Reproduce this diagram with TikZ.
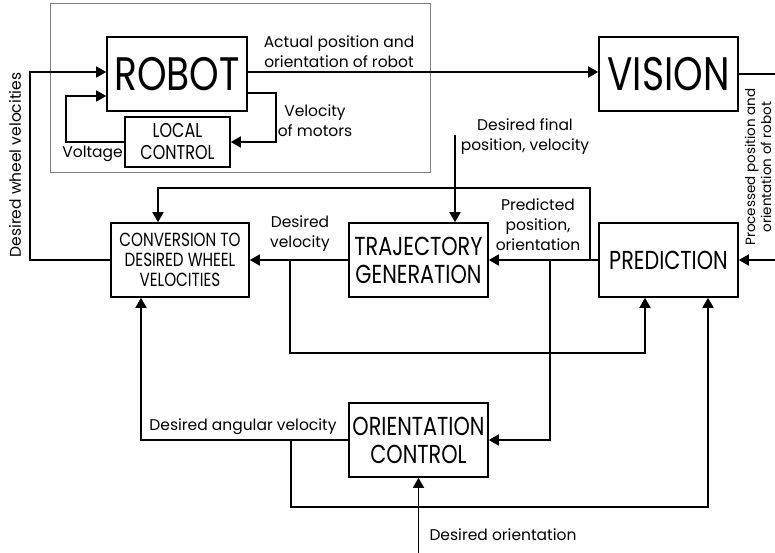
\documentclass[tikz,border=0pt]{standalone}
\usepackage{fontspec}
\setmainfont{Poppins}
\newfontfamily\blockfont[FakeStretch=0.8]{Poppins}
\usetikzlibrary{
  arrows.meta,
  calc,
  positioning
}

\tikzset{
  block/.style={draw,line width=1.6,inner sep=0,align=center,
    minimum width=139,minimum height=74,font=\blockfont\fontsize{26}{28}\selectfont},
  bigblock/.style={block,font=\blockfont\fontsize{47}{50}\selectfont},
  smallblock/.style={block,font=\blockfont\fontsize{19}{20}\selectfont},
  flow/.style={line width=1.6,-{Triangle[length=10,width=11]}},
  tag/.style={align=center,inner sep=0,font=\fontsize{15.5}{20}\selectfont}
}

\begin{document}
\begin{tikzpicture}[x=1pt,y=-1pt]
  \useasboundingbox (0,0) rectangle (775,552);

  \draw[line width=0.8,gray] (50,3) rectangle (430,172);

  \node[bigblock,minimum width=140] at (177,74) (Robot) {ROBOT};
  \node[smallblock,minimum width=105,minimum height=50,
    font=\blockfont\fontsize{20}{22}\selectfont] at (177.5,142) (Local) {LOCAL\\CONTROL};
  \node[bigblock] at (668.5,74) (Vision) {VISION};
  \node[smallblock,minimum width=138] at (180,260) (Conversion) {CONVERSION TO\\DESIRED WHEEL\\VELOCITIES};
  \node[block] at (418.5,260) (Trajectory) {TRAJECTORY\\GENERATION};
  \node[block] at (668.5,260) (Prediction) {PREDICTION};
  \node[block] at (418.5,440) (Orientation) {ORIENTATION\\CONTROL};

  \coordinate (Wheel Corner) at (30,72);
  \coordinate (Voltage Corner) at (66,96);
  \coordinate (Motor Corner) at (276,93);
  \coordinate (Vision Corner) at (782,74);
  \coordinate (Final Input) at (455,135);
  \coordinate (Predicted Corner) at (590,188);
  \coordinate (Velocity Corner) at (290,353);
  \coordinate (Orientation Branch) at (550,260);
  \coordinate (Angular Corner) at (291,507);
  \coordinate (Orientation Input) at (418.5,556);

  \draw[flow] (Conversion.west) -| (Wheel Corner) -- (Robot.west |- Wheel Corner);
  \node[tag,rotate=90] at (15,165) (Wheel Label) {Desired wheel velocities};

  \draw[flow] (Local.west) -| (Voltage Corner) -- (Robot.west |- Voltage Corner);
  \node[tag,anchor=east] at (123,154) (Voltage Label) {Voltage};
  \draw[flow] (Robot.east |- Motor Corner) -- (Motor Corner) |- (Local.east);
  \node[tag] at (315,121) (Motor Label) {Velocity\\of motors};

  \draw[flow] (Robot.east |- Wheel Corner) -- (Vision.west |- Wheel Corner);
  \node[tag] at (339,52) (Actual Label) {Actual position and\\orientation of robot};

  \draw[flow] (Vision.east) -- (Vision Corner) |- (Prediction.east);
  \node[tag,rotate=90,font=\fontsize{13.5}{16}\selectfont] at (758,167)
  (Processed Label) {Processed position and\\orientation of robot};

  \draw[flow] (Final Input) -- (Trajectory.north -| Final Input);
  \node[tag] at (525,137) (Final Label) {Desired final\\position, velocity};

  \draw[flow] (Prediction.west) -- (Trajectory.east);
  \node[tag] at (538,225) (Predicted Label) {Predicted\\position,\\orientation};
  \draw[flow] (Prediction.west -| Predicted Corner) -- (Predicted Corner)
  -| ([xshift=-22]Conversion.north);
  \draw[flow] (Orientation Branch) |- (Orientation.east);

  \draw[flow] (Trajectory.west) -- (Conversion.east);
  \node[tag] at (300,234) (Velocity Label) {Desired\\velocity};
  \draw[flow] (Conversion.east -| Velocity Corner) -- (Velocity Corner)
  -| ([xshift=-23.5]Prediction.south);

  \draw[flow] (Orientation.west) -| ([xshift=-39]Conversion.south);
  \node[tag] at (243,427) (Angular Label) {Desired angular velocity};
  \draw[flow] (Orientation.west -| Angular Corner) -- (Angular Corner)
  -| ([xshift=39.5]Prediction.south);

  \draw[flow] (Orientation Input) -- (Orientation.south);
  \node[tag] at (503,535) (Orientation Label) {Desired orientation};
\end{tikzpicture}
\end{document}
